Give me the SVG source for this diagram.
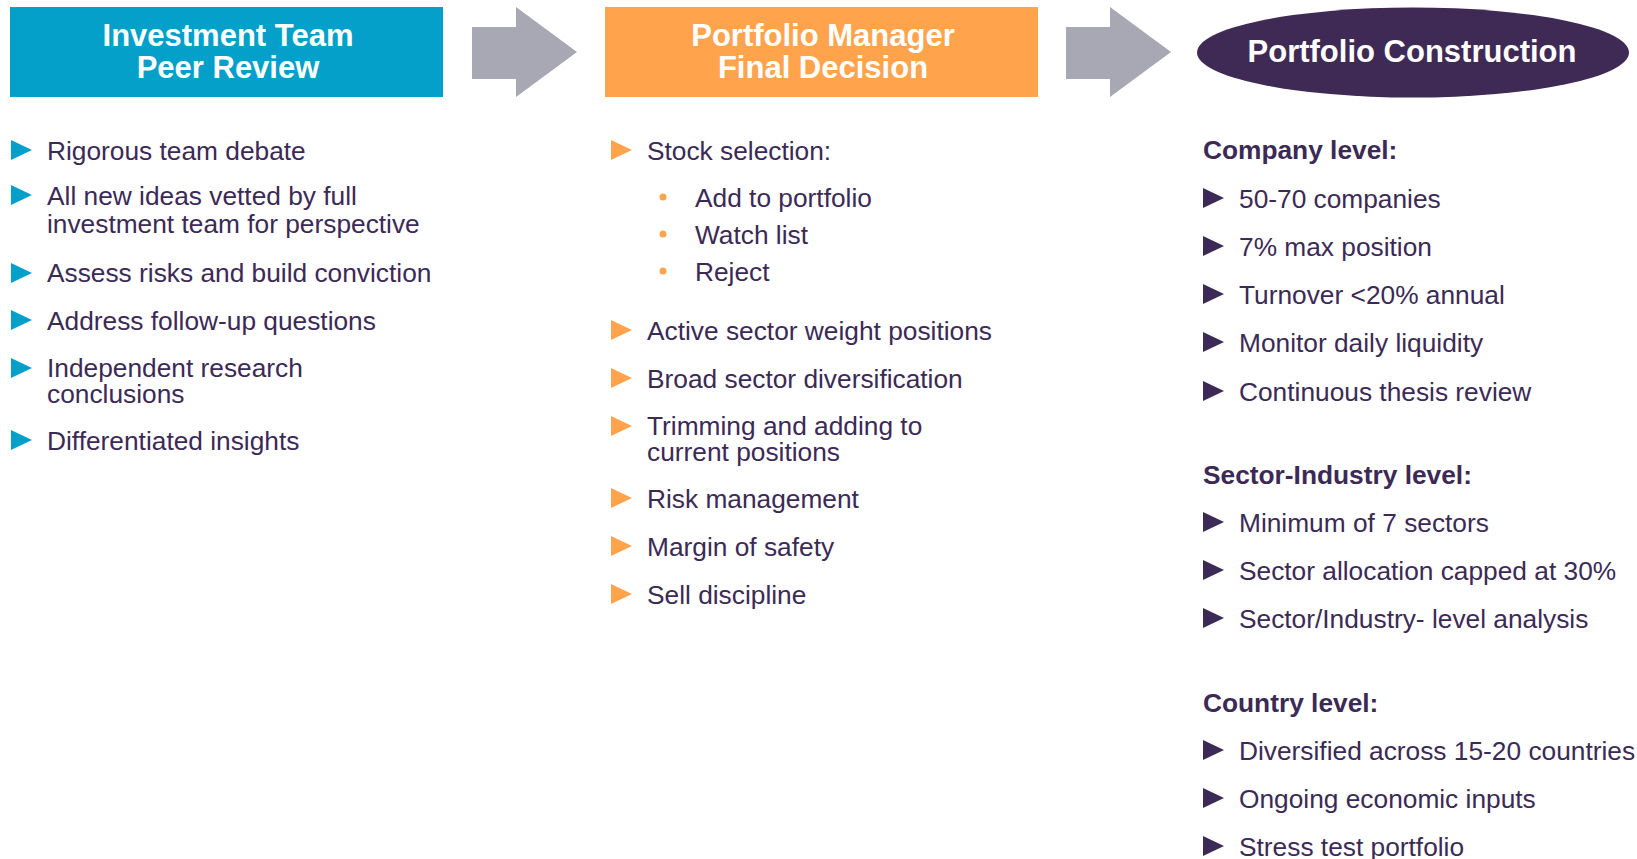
<svg xmlns="http://www.w3.org/2000/svg" width="1637" height="859" viewBox="0 0 1637 859">
<defs>
<style>
.hd{font-family:"Liberation Sans",Arial,sans-serif;font-weight:bold;font-size:31px;fill:#fff;text-anchor:middle}
.tx{font-family:"Liberation Sans",Arial,sans-serif;font-size:26.3px;fill:#3C2A56}
.bd{font-family:"Liberation Sans",Arial,sans-serif;font-size:26.3px;font-weight:bold;fill:#3C2A56}
.arr{fill:#A8A7B4}
</style>
<path id="tri" d="M0,0 L21,10 L0,20 Z"/>
</defs>
<rect width="1637" height="859" fill="#fff"/>

<g id="node-peer-review">
<rect x="10" y="7" width="433" height="90" fill="#04A0CA"/>
<text class="hd" x="228" y="46">Investment Team</text>
<text class="hd" x="228" y="78">Peer Review</text>
</g>

<g id="node-final-decision">
<rect x="605" y="7" width="433" height="90" fill="#FFA34D"/>
<text class="hd" x="823" y="46">Portfolio Manager</text>
<text class="hd" x="823" y="78">Final Decision</text>
</g>

<g id="node-portfolio-construction">
<ellipse cx="1413" cy="52.5" rx="216" ry="45" fill="#3F2A56"/>
<text class="hd" x="1412" y="62">Portfolio Construction</text>
</g>

<g id="connectors">
<path class="arr" d="M472,27 L516,27 L516,7 L577,52 L516,97 L516,79 L472,79 Z"/>
<path class="arr" d="M1066,27 L1110,27 L1110,7 L1171,52 L1110,97 L1110,79 L1066,79 Z"/>
</g>

<g id="list-peer-review" fill="#04A0CA">
<use href="#tri" x="11" y="140"/>
<use href="#tri" x="11" y="185"/>
<use href="#tri" x="11" y="263"/>
<use href="#tri" x="11" y="310"/>
<use href="#tri" x="11" y="358"/>
<use href="#tri" x="11" y="430"/>
<text class="tx" x="47" y="160">Rigorous team debate</text>
<text class="tx" x="47" y="205">All new ideas vetted by full<tspan x="47" y="233">investment team for perspective</tspan></text>
<text class="tx" x="47" y="282">Assess risks and build conviction</text>
<text class="tx" x="47" y="330">Address follow-up questions</text>
<text class="tx" x="47" y="377">Independent research</text>
<text class="tx" x="47" y="403">conclusions</text>
<text class="tx" x="47" y="450">Differentiated insights</text>
</g>

<g id="list-final-decision" fill="#FFA34D">
<use href="#tri" x="611" y="140"/>
<circle cx="663" cy="197" r="3.5"/>
<circle cx="663" cy="234" r="3.5"/>
<circle cx="663" cy="271" r="3.5"/>
<use href="#tri" x="611" y="320"/>
<use href="#tri" x="611" y="368"/>
<use href="#tri" x="611" y="416"/>
<use href="#tri" x="611" y="488"/>
<use href="#tri" x="611" y="536"/>
<use href="#tri" x="611" y="584"/>
<text class="tx" x="647" y="160">Stock selection:</text>
<text class="tx" x="695" y="207">Add to portfolio</text>
<text class="tx" x="695" y="244">Watch list</text>
<text class="tx" x="695" y="281">Reject</text>
<text class="tx" x="647" y="340">Active sector weight positions</text>
<text class="tx" x="647" y="388">Broad sector diversification</text>
<text class="tx" x="647" y="435">Trimming and adding to</text>
<text class="tx" x="647" y="461">current positions</text>
<text class="tx" x="647" y="508">Risk management</text>
<text class="tx" x="647" y="556">Margin of safety</text>
<text class="tx" x="647" y="604">Sell discipline</text>
</g>

<g id="list-portfolio-construction" fill="#3C2A56">
<text class="bd" x="1203" y="159">Company level:</text>
<use href="#tri" x="1203" y="188"/>
<use href="#tri" x="1203" y="236"/>
<use href="#tri" x="1203" y="284"/>
<use href="#tri" x="1203" y="332"/>
<use href="#tri" x="1203" y="381"/>
<text class="tx" x="1239" y="208">50-70 companies</text>
<text class="tx" x="1239" y="256">7% max position</text>
<text class="tx" x="1239" y="304">Turnover &lt;20% annual</text>
<text class="tx" x="1239" y="352">Monitor daily liquidity</text>
<text class="tx" x="1239" y="401">Continuous thesis review</text>
<text class="bd" x="1203" y="484">Sector-Industry level:</text>
<use href="#tri" x="1203" y="512"/>
<use href="#tri" x="1203" y="560"/>
<use href="#tri" x="1203" y="608"/>
<text class="tx" x="1239" y="532">Minimum of 7 sectors</text>
<text class="tx" x="1239" y="580">Sector allocation capped at 30%</text>
<text class="tx" x="1239" y="628">Sector/Industry- level analysis</text>
<text class="bd" x="1203" y="712">Country level:</text>
<use href="#tri" x="1203" y="740"/>
<use href="#tri" x="1203" y="788"/>
<use href="#tri" x="1203" y="836"/>
<text class="tx" x="1239" y="760">Diversified across 15-20 countries</text>
<text class="tx" x="1239" y="808">Ongoing economic inputs</text>
<text class="tx" x="1239" y="856">Stress test portfolio</text>
</g>
</svg>
